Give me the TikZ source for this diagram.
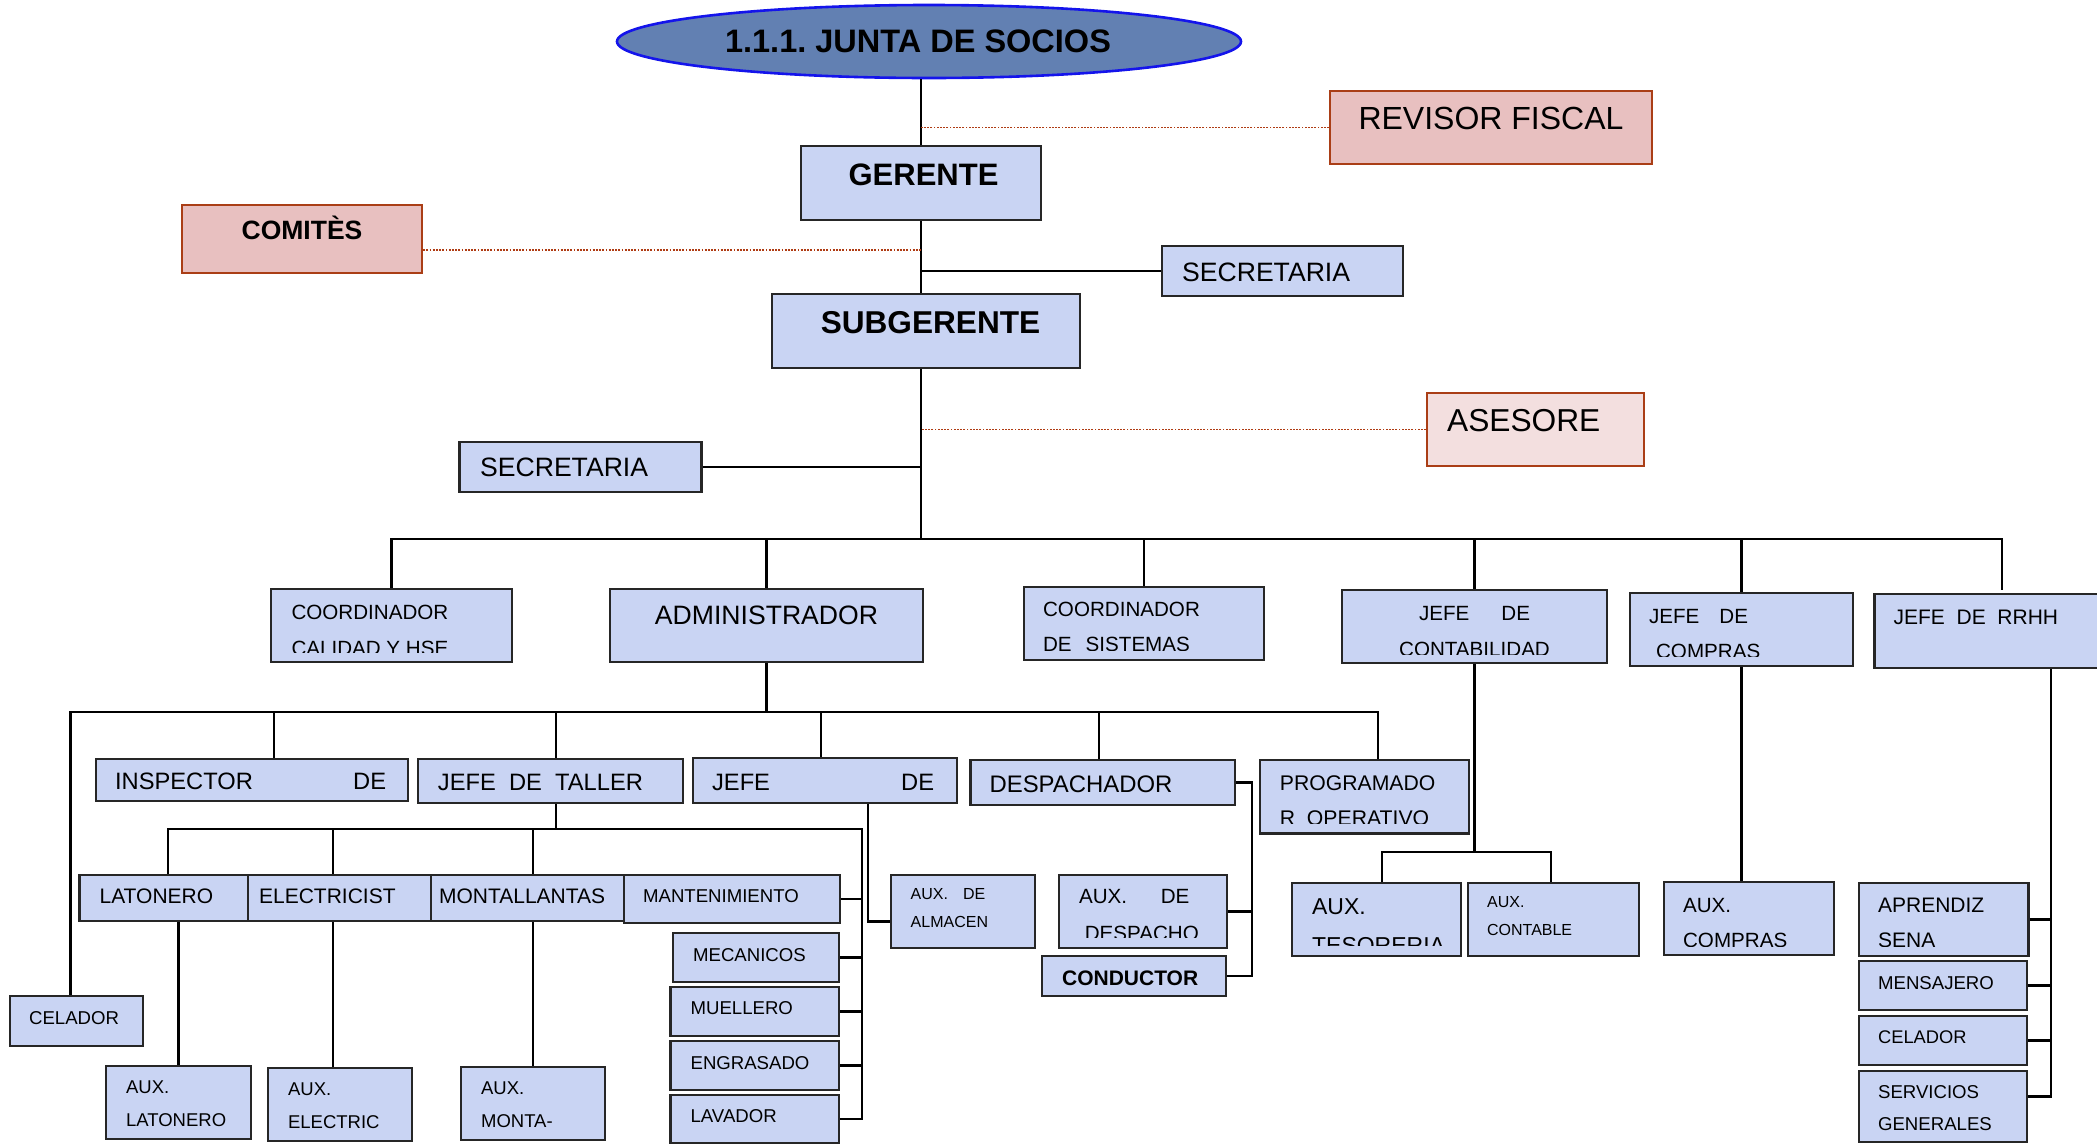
\documentclass[tikz,border=0pt]{standalone}
\usepackage{fontspec}
\setmainfont{Liberation Sans}
\usetikzlibrary{
  shapes.geometric,
  positioning,
  calc
}
\definecolor{tissue}{RGB}{201,212,243}
\definecolor{denim}{RGB}{98,128,178}
\definecolor{denimedge}{RGB}{20,20,235}
\definecolor{rosefill}{RGB}{232,192,192}
\definecolor{rosepale}{RGB}{243,223,223}
\definecolor{roseedge}{RGB}{170,62,22}
\definecolor{dotcol}{RGB}{175,60,20}
\newcommand\fsz[2]{\fontsize{#1}{#2}\selectfont}

\begin{document}
\begin{tikzpicture}[
  x=1pt, y=-1pt,
  board/.style={
    ellipse,
    draw=denimedge,
    line width=2.6pt,
    fill=denim,
    inner sep=0pt
  },
  unit/.style={
    rectangle,
    draw=black!85,
    line width=2.2pt,
    fill=tissue,
    inner sep=0pt
  },
  outside/.style={
    unit,
    draw=roseedge,
    fill=rosefill
  },
  txt/.style={
    inner sep=0pt,
    anchor=base west,
    align=left
  },
  ctxt/.style={
    inner sep=0pt,
    anchor=base,
    align=center
  },
  link/.style={
    draw=black,
    line width=2.2pt
  },
  dotlink/.style={
    draw=dotcol,
    line width=1.8pt,
    dash pattern=on 1.8pt off 1.4pt
  }
]

\useasboundingbox (0,0) rectangle (2097,1144);
\clip (0,0) rectangle (2097,1144);

% ------------------------------------------------------------------
% Board, management and staff units
% ------------------------------------------------------------------
\node[board, minimum width=624pt, minimum height=73pt] (socios) at (929,41.5) {};
\node[ctxt, font=\bfseries\fsz{32.5}{36}] (socios-t)
  at ($(socios.north)+(-11,48.5)$) {1.1.1.\ JUNTA DE SOCIOS};

\node[unit, minimum width=240pt, minimum height=74pt] (gerente) at (921,183) {};
\node[ctxt, font=\bfseries\fsz{31}{36}] (gerente-t)
  at ($(gerente.north)+(2.5,40.7)$) {GERENTE};

\node[outside, minimum width=322pt, minimum height=73pt] (revisor) at (1491,127.5) {};
\node[ctxt, font=\fsz{32}{36}] (revisor-t)
  at ($(revisor.north)+(0,40)$) {REVISOR FISCAL};

\node[outside, minimum width=240pt, minimum height=68pt] (comites) at (302,239) {};
\node[ctxt, font=\bfseries\fsz{26.5}{30}] (comites-t)
  at ($(comites.north)+(0,35.7)$) {COMITÈS};

\node[unit, minimum width=241pt, minimum height=50pt] (secre1) at (1282.5,271) {};
\node[txt, font=\fsz{26.6}{30}] (secre1-t)
  at ($(secre1.north west)+(21,37)$) {SECRETARIA};

\node[unit, minimum width=308pt, minimum height=74pt] (subger) at (926,331) {};
\node[ctxt, font=\bfseries\fsz{31.6}{36}] (subger-t)
  at ($(subger.north)+(4.5,41)$) {SUBGERENTE};

\node[outside, fill=rosepale, minimum width=217pt, minimum height=73pt] (asesore) at (1535.5,429.5) {};
\node[txt, font=\fsz{31.7}{36}] (asesore-t)
  at ($(asesore.north west)+(21,40)$) {ASESORE};

\node[unit, minimum width=242pt, minimum height=50pt] (secre2) at (580.5,467) {};
\node[txt, font=\fsz{26.6}{30}] (secre2-t)
  at ($(secre2.north west)+(21.5,36)$) {SECRETARIA};

% ------------------------------------------------------------------
% Second level: heads of area
% (two-line texts sit on their last line, so the offset adds one line)
% ------------------------------------------------------------------
\node[unit, minimum width=241pt, minimum height=73pt] (calidad) at (391.5,625.5) {};
\node[unit, minimum width=313pt, minimum height=73pt] (admin) at (766.5,625.5) {};
\node[unit, minimum width=240pt, minimum height=73pt] (sistemas) at (1144,623.5) {};
\node[unit, minimum width=265pt, minimum height=73pt] (contab) at (1474.5,626.5) {};
\node[unit, minimum width=223pt, minimum height=73pt] (compras) at (1741.5,629.5) {};
\node[unit, minimum width=240.5pt, minimum height=74pt] (rrhh) at (1994.75,631) {};

\begin{scope}
  \clip (calidad.north west) rectangle ([yshift=10.7pt]calidad.south east);
  \node[txt, font=\fsz{20.6}{35.4}] (calidad-t)
    at ($(calidad.north west)+(21.4,67.1)$) {COORDINADOR\\CALIDAD Y HSE};
\end{scope}
\node[ctxt, font=\fsz{26.6}{30}] (admin-t)
  at ($(admin.north)+(0,36.5)$) {ADMINISTRADOR};
\begin{scope}
  \clip (sistemas.north west) rectangle ([yshift=10.7pt]sistemas.south east);
  \node[txt, font=\fsz{20.6}{35.2}] (sistemas-t)
    at ($(sistemas.north west)+(20,65.7)$) {COORDINADOR\\DE\hspace{14pt}SISTEMAS};
\end{scope}
\begin{scope}
  \clip (contab.north west) rectangle ([yshift=9.7pt]contab.south east);
  \node[ctxt, font=\fsz{20.6}{35.8}] (contab-t)
    at ($(contab.north)+(0,67.3)$) {JEFE\hspace{32pt}DE\\CONTABILIDAD};
\end{scope}
\begin{scope}
  \clip (compras.north west) rectangle ([yshift=10.7pt]compras.south east);
  \node[txt, font=\fsz{20.6}{35}] (compras-t)
    at ($(compras.north west)+(20,66.3)$) {JEFE\hspace{20pt}DE\\\hspace*{7pt}COMPRAS};
\end{scope}
\node[txt, font=\fsz{21}{24}] (rrhh-t)
  at ($(rrhh.north west)+(20,31.8)$) {JEFE\ \ DE\ \ RRHH};

% ------------------------------------------------------------------
% Under the administrator
% ------------------------------------------------------------------
\node[unit, minimum width=311.6pt, minimum height=42pt] (inspector) at (251.8,780) {};
\node[unit, minimum width=265pt, minimum height=44pt] (taller) at (550.5,781) {};
\node[unit, minimum width=264pt, minimum height=45pt] (jalm) at (825,780.5) {};
\node[unit, minimum width=264.5pt, minimum height=45pt] (desp) at (1102.75,782.5) {};
\node[unit, minimum width=209pt, minimum height=73.5pt] (progr) at (1364.5,796.75) {};
\node[unit, minimum width=133pt, minimum height=50pt] (celador1) at (76.5,1021) {};

\node[txt, text width=271pt, font=\fsz{23.7}{27}] (inspector-t)
  at ($(inspector.north west)+(20,32)$) {INSPECTOR\hfill DE};
\node[txt, font=\fsz{23.7}{27}] (taller-t)
  at ($(taller.north west)+(20.8,33)$) {JEFE\ \ DE\ \ TALLER};
\node[txt, text width=222pt, font=\fsz{23.7}{27}] (jalm-t)
  at ($(jalm.north west)+(20,33.8)$) {JEFE\hfill DE};
\node[txt, font=\fsz{23.9}{27}] (desp-t)
  at ($(desp.north west)+(20,33.8)$) {DESPACHADOR};
\begin{scope}
  \clip (progr.north west) rectangle ([yshift=11pt]progr.south east);
  \node[txt, font=\fsz{21.2}{35.1}] (progr-t)
    at ($(progr.north west)+(20.8,66.9)$) {PROGRAMADO\\R\ \ OPERATIVO};
\end{scope}
\node[txt, font=\fsz{18.6}{22}] (celador1-t)
  at ($(celador1.north west)+(20,29.4)$) {CELADOR};

% taller crew
\node[unit, minimum width=168.5pt, minimum height=46pt] (latonero) at (163.75,898) {};
\node[unit, minimum width=183pt, minimum height=46pt] (electricist) at (339.5,898) {};
\node[unit, minimum width=193pt, minimum height=46pt] (montall) at (527.5,898) {};
\node[unit, minimum width=216pt, minimum height=48pt] (mant) at (732,899) {};
\node[unit, minimum width=166pt, minimum height=49pt] (mecan) at (756,957.5) {};
\node[unit, minimum width=168.5pt, minimum height=49pt] (muell) at (754.75,1011.5) {};
\node[unit, minimum width=168.5pt, minimum height=49pt] (engras) at (754.75,1065.5) {};
\node[unit, minimum width=168.5pt, minimum height=48pt] (lavador) at (754.75,1119) {};
\node[unit, minimum width=145pt, minimum height=73pt] (auxlat) at (178.5,1102.5) {};
\node[unit, minimum width=144pt, minimum height=73pt] (auxelec) at (340,1104.5) {};
\node[unit, minimum width=144pt, minimum height=73pt] (auxmonta) at (533,1103.5) {};

\node[txt, font=\fsz{21}{24}] (latonero-t)
  at ($(latonero.north west)+(21,30)$) {LATONERO};
\node[txt, font=\fsz{21}{24}] (electricist-t)
  at ($(electricist.north west)+(12,30)$) {ELECTRICIST};
\node[txt, font=\fsz{21}{24}] (montall-t)
  at ($(montall.north west)+(9,30)$) {MONTALLANTAS};
\node[txt, font=\fsz{18.6}{22}] (mant-t)
  at ($(mant.north west)+(20,28.2)$) {MANTENIMIENTO};
\node[txt, font=\fsz{18.6}{22}] (mecan-t)
  at ($(mecan.north west)+(21,29.5)$) {MECANICOS};
\node[txt, font=\fsz{18.6}{22}] (muell-t)
  at ($(muell.north west)+(21,28.4)$) {MUELLERO};
\node[txt, font=\fsz{18.6}{22}] (engras-t)
  at ($(engras.north west)+(21,29.3)$) {ENGRASADO};
\node[txt, font=\fsz{18.6}{22}] (lavador-t)
  at ($(lavador.north west)+(21,29)$) {LAVADOR};
\node[txt, font=\fsz{18.5}{32.6}] (auxlat-t)
  at ($(auxlat.north west)+(21,61.6)$) {AUX.\\LATONERO};
\node[txt, font=\fsz{18.5}{32.6}] (auxelec-t)
  at ($(auxelec.north west)+(21,61.6)$) {AUX.\\ELECTRIC};
\node[txt, font=\fsz{18.5}{32.6}] (auxmonta-t)
  at ($(auxmonta.north west)+(21,61.6)$) {AUX.\\MONTA-};

% almacen and despacho
\node[unit, minimum width=144pt, minimum height=73pt] (auxalm) at (963,911.5) {};
\node[unit, minimum width=168pt, minimum height=73pt] (auxdesp) at (1143,911.5) {};
\node[unit, minimum width=184pt, minimum height=40pt] (conductor) at (1134,976) {};

\node[txt, font=\fsz{16}{27.7}] (auxalm-t)
  at ($(auxalm.north west)+(20.6,53.7)$) {AUX.\hspace*{15pt}DE\\ALMACEN};
\begin{scope}
  \clip (auxdesp.north west) rectangle ([yshift=11.4pt]auxdesp.south east);
  \node[txt, font=\fsz{20.6}{36.4}] (auxdesp-t)
    at ($(auxdesp.north west)+(21,66.4)$) {AUX.\hspace*{33.6pt}DE\\\hspace*{5.7pt}DESPACHO};
\end{scope}
\node[txt, font=\bfseries\fsz{21}{24}] (conductor-t)
  at ($(conductor.north west)+(21,30.4)$) {CONDUCTOR};

% ------------------------------------------------------------------
% Contabilidad, compras, RRHH
% ------------------------------------------------------------------
\node[unit, minimum width=169pt, minimum height=73pt] (tesor) at (1376.5,919.5) {};
\node[unit, minimum width=171pt, minimum height=73pt] (contable) at (1553.5,919.5) {};
\node[unit, minimum width=170pt, minimum height=73pt] (auxcomp) at (1749,918.5) {};
\node[unit, minimum width=169.5pt, minimum height=73pt] (aprendiz) at (1943.75,919.5) {};
\node[unit, minimum width=168pt, minimum height=49pt] (mensajero) at (1943,985.5) {};
\node[unit, minimum width=168pt, minimum height=49pt] (celador2) at (1943,1040.5) {};
\node[unit, minimum width=168pt, minimum height=71pt] (servicios) at (1943,1106.5) {};

\begin{scope}
  \clip (tesor.north west) rectangle ([yshift=11.4pt]tesor.south east);
  \node[txt, font=\fsz{23}{39}] (tesor-t)
    at ($(tesor.north west)+(21,72)$) {AUX.\\TESORERIA};
\end{scope}
\node[txt, font=\fsz{16}{27.5}] (contable-t)
  at ($(contable.north west)+(20,53.5)$) {AUX.\\CONTABLE};
\begin{scope}
  \clip (auxcomp.north west) rectangle ([yshift=10pt]auxcomp.south east);
  \node[txt, font=\fsz{20.6}{34.5}] (auxcomp-t)
    at ($(auxcomp.north west)+(20,66.5)$) {AUX.\\COMPRAS};
\end{scope}
\begin{scope}
  \clip (aprendiz.north west) rectangle ([yshift=11pt]aprendiz.south east);
  \node[txt, font=\fsz{21}{34.8}] (aprendiz-t)
    at ($(aprendiz.north west)+(20,65.8)$) {APRENDIZ\\SENA};
\end{scope}
\node[txt, font=\fsz{18.6}{22}] (mensajero-t)
  at ($(mensajero.north west)+(20,29.7)$) {MENSAJERO};
\node[txt, font=\fsz{18.3}{22}] (celador2-t)
  at ($(celador2.north west)+(20,28.5)$) {CELADOR};
\node[txt, font=\fsz{18.6}{32}] (servicios-t)
  at ($(servicios.north west)+(20,60.4)$) {SERVICIOS\\GENERALES};

% ------------------------------------------------------------------
% Connectors
% ------------------------------------------------------------------
\coordinate (bus1) at (921,539);
\coordinate (bus2) at (767,712);
\coordinate (bus3) at (862,829);
\coordinate (bus4) at (1252,783);
\coordinate (bus5) at (1475,852);
\coordinate (rstem) at ([xshift=56pt]rrhh.south);
\coordinate (rtop) at (2002,590);

% main spine
\draw[link] (socios.south -| gerente.north) -- (gerente.north);
\draw[link] (gerente.south) -- (gerente.south |- subger.north);
\draw[link] (gerente.south |- subger.south) -- (gerente.south |- bus1);
\draw[link] (secre1.west) -- (secre1.west -| gerente.north);
\draw[link] (secre2.east) -- (secre2.east -| gerente.north);

% advisory bodies
\draw[dotlink] (revisor.west) -- (revisor.west -| gerente.north);
\draw[dotlink] ([yshift=-11pt]comites.east) -- ([yshift=-11pt]comites.east -| gerente.north);
\draw[dotlink] (asesore.west) -- (asesore.west -| gerente.north);

% heads of area
\draw[link] (calidad.north) -- (calidad.north |- bus1) -- (rtop |- bus1) -- (rtop);
\foreach \n in {admin,sistemas,contab,compras}
  \draw[link] (\n.north) -- (\n.north |- bus1);

% administrator
\draw[link] (admin.south) -- (admin.south |- bus2);
\draw[link] ([xshift=-6pt]celador1.north) -- ([xshift=-6pt]celador1.north |- bus2)
  -- ([xshift=13.5pt]progr.north |- bus2) -- ([xshift=13.5pt]progr.north);
\foreach \n/\dx in {inspector/22, taller/5.5, jalm/-4, desp/-4}
  \draw[link] ([xshift=\dx pt]\n.north) -- ([xshift=\dx pt]\n.north |- bus2);

% taller
\draw[link] ([xshift=5.5pt]taller.south) -- ([xshift=5.5pt]taller.south |- bus3);
\draw[link] ([xshift=4pt]latonero.north) |- (bus3) |- (lavador.east);
\foreach \n/\dx in {electricist/-6.5, montall/5.5}
  \draw[link] ([xshift=\dx pt]\n.north) -- ([xshift=\dx pt]\n.north |- bus3);
\foreach \n in {mant,mecan,muell,engras}
  \draw[link] (\n.east) -- (\n.east -| bus3);
\draw[link] (auxlat.north) -- (auxlat.north |- latonero.south);
\draw[link] ([xshift=-7pt]auxelec.north) -- ([xshift=-7pt]auxelec.north |- electricist.south);
\draw[link] (auxmonta.north) -- (auxmonta.north |- montall.south);

% almacen, despacho
\draw[link] ([xshift=43pt]jalm.south) |- ([yshift=-10pt]auxalm.west);
\draw[link] (desp.east) -- (desp.east -| bus4) |- (conductor.east);
\draw[link] (auxdesp.east) -- (auxdesp.east -| bus4);

% contabilidad, compras
\draw[link] (contab.south) -- (contab.south |- bus5);
\draw[link] ([xshift=5.5pt]tesor.north) |- (bus5) -| ([xshift=-2.5pt]contable.north);
\draw[link] (compras.south) -- (compras.south |- auxcomp.north);

% rrhh
\draw[link] (rstem) |- ([yshift=10pt]servicios.east);
\foreach \n in {aprendiz,mensajero,celador2}
  \draw[link] (\n.east) -- (\n.east -| rstem);

\end{tikzpicture}
\end{document}
